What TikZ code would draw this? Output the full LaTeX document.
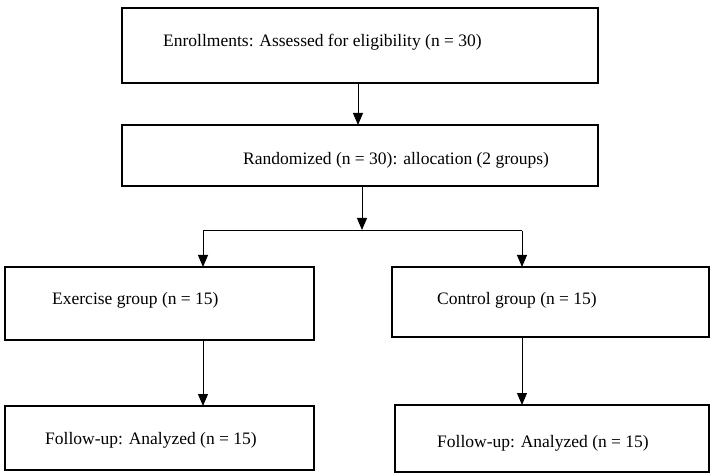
\documentclass[tikz,border=0pt]{standalone}
\usepackage{fontspec}
\setmainfont{Liberation Serif}
\usetikzlibrary{arrows.meta}
\begin{document}
\begin{tikzpicture}[x=1pt,y=-1pt,
 box/.style={draw,line width=1.5pt},
 txt/.style={anchor=west,inner sep=0pt,font=\fontsize{17.5}{20}\selectfont},
 arr/.style={line width=1pt,-{Triangle[length=12pt,width=10pt]}}]
\useasboundingbox (0,0) rectangle (713,476);
\draw[box] (122,8) rectangle (598,83);
\node[txt] (t1) at (163,42) {Enrollments: Assessed for eligibility (n = 30)};
\draw[box] (122,125) rectangle (598,186);
\node[txt] (t2) at (243,160) {Randomized (n = 30): allocation (2 groups)};
\draw[box] (5,267) rectangle (314,340);
\node[txt] (t3) at (52,300) {Exercise group (n = 15)};
\draw[box] (392,267) rectangle (709,337);
\node[txt] (t4) at (437,300) {Control group (n = 15)};
\draw[box] (5,406) rectangle (314,470);
\node[txt] (t5) at (45,440) {Follow-up: Analyzed (n = 15)};
\draw[box] (395,405) rectangle (709,472);
\node[txt] (t6) at (437,443) {Follow-up: Analyzed (n = 15)};
\coordinate (a1) at (358,83); \coordinate (a2) at (358,125);
\draw[arr] (a1) -- (a2);
\coordinate (b0) at (362,186); \coordinate (b1) at (362,230);
\coordinate (bl) at (203,231); \coordinate (br) at (522,231);
\coordinate (bl2) at (203,267); \coordinate (br2) at (522,267);
\draw[arr] (b0) -- (b1);
\draw[line width=1pt] (bl) -- (br);
\draw[arr] (bl) -- (bl2);
\draw[arr] (br) -- (br2);
\coordinate (c1) at (203,340); \coordinate (c2) at (203,406);
\coordinate (d1) at (522,337); \coordinate (d2) at (522,405);
\draw[arr] (c1) -- (c2);
\draw[arr] (d1) -- (d2);
\end{tikzpicture}
\end{document}
